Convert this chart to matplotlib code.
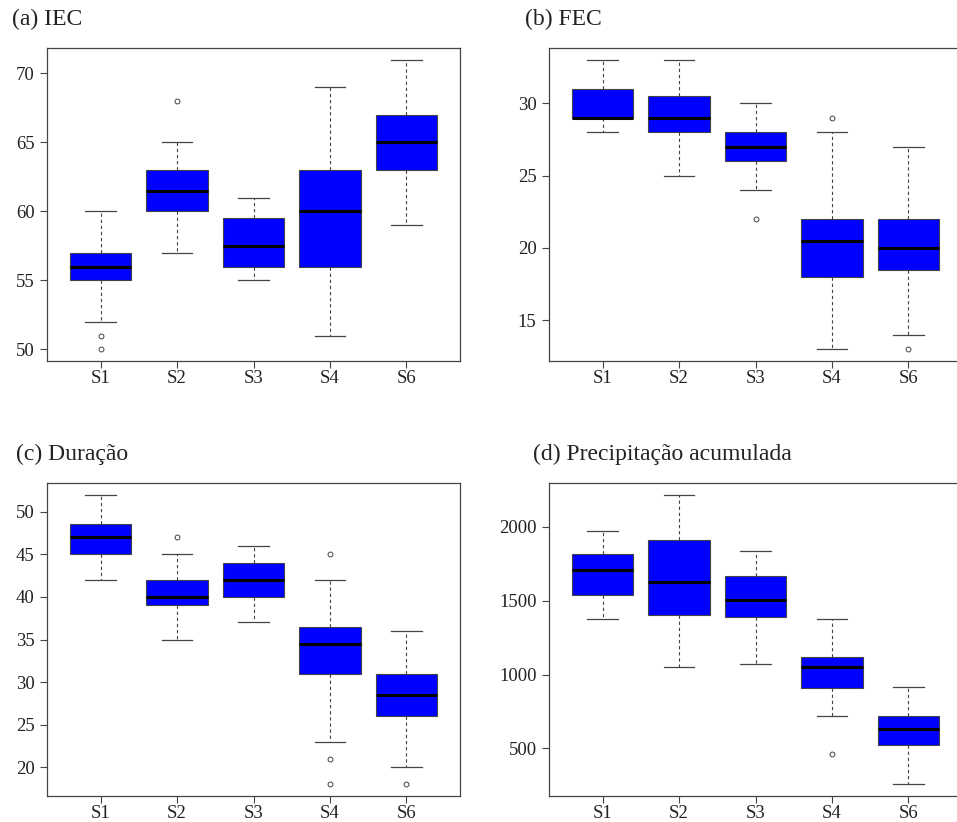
import numpy as np
import matplotlib.pyplot as plt

## DATA ##
cenarios = ['S1', 'S2', 'S3', 'S4', 'S6']

# (a) IEC
iec_whislo = [52, 57, 55, 51, 59]
iec_q1 = [55, 60, 56, 56, 63]
iec_med = [56, 61.5, 57.5, 60, 65]
iec_q3 = [57, 63, 59.5, 63, 67]
iec_whishi = [60, 65, 61, 69, 71]
iec_fliers = [[51, 50], [68], [], [], []]

# (b) FEC
fec_whislo = [28, 25, 24, 13, 14]
fec_q1 = [29, 28, 26, 18, 18.5]
fec_med = [29, 29, 27, 20.5, 20]
fec_q3 = [31, 30.5, 28, 22, 22]
fec_whishi = [33, 33, 30, 28, 27]
fec_fliers = [[], [], [22], [29], [13]]

# (c) Duracao
dur_whislo = [42, 35, 37, 23, 20]
dur_q1 = [45, 39, 40, 31, 26]
dur_med = [47, 40, 42, 34.5, 28.5]
dur_q3 = [48.5, 42, 44, 36.5, 31]
dur_whishi = [52, 45, 46, 42, 36]
dur_fliers = [[], [47], [], [45, 21, 18], [18]]

# (d) Precipitacao acumulada
prec_whislo = [1377, 1048, 1071, 717, 256]
prec_q1 = [1538, 1404, 1389, 906, 520]
prec_med = [1707, 1626, 1504, 1050, 628]
prec_q3 = [1820, 1914, 1668, 1122, 717]
prec_whishi = [1973, 2219, 1838, 1377, 913]
prec_fliers = [[], [], [], [459], []]

titles = ['(a) IEC', '(b) FEC', '(c) Duração', '(d) Precipitação acumulada']
yticks = [[50, 55, 60, 65, 70], [15, 20, 25, 30], [20, 25, 30, 35, 40, 45, 50],
          [500, 1000, 1500, 2000]]

panels = [
    (iec_whislo, iec_q1, iec_med, iec_q3, iec_whishi, iec_fliers),
    (fec_whislo, fec_q1, fec_med, fec_q3, fec_whishi, fec_fliers),
    (dur_whislo, dur_q1, dur_med, dur_q3, dur_whishi, dur_fliers),
    (prec_whislo, prec_q1, prec_med, prec_q3, prec_whishi, prec_fliers),
]

plt.rcParams['font.family'] = ['Liberation Serif', 'DejaVu Serif']

W, H = 957, 822
fig = plt.figure(figsize=(W / 100, H / 100), dpi=100)

# axes boxes in pixels: left, top, right, bottom
ax_px = [(47, 48, 460, 361), (549, 48, 962, 361),
         (47, 483, 460, 796), (549, 483, 962, 796)]
title_px = [(12, 19), (525, 19), (16, 454), (533, 454)]

line_col = '#444444'

for i, (wl, q1, med, q3, wh, fl) in enumerate(panels):
    l, t, r, b = ax_px[i]
    ax = fig.add_axes([l / W, 1 - b / H, (r - l) / W, (b - t) / H])

    stats = []
    for k in range(len(cenarios)):
        stats.append(dict(med=med[k], q1=q1[k], q3=q3[k], whislo=wl[k],
                          whishi=wh[k], fliers=fl[k], label=cenarios[k]))

    ax.bxp(stats, positions=np.arange(1, 6), widths=0.8, patch_artist=True,
           showfliers=True,
           boxprops=dict(facecolor='#0000ff', edgecolor=line_col, linewidth=0.8),
           medianprops=dict(color='black', linewidth=2.2),
           whiskerprops=dict(color=line_col, linewidth=0.8, linestyle=(0, (3, 2.5))),
           capprops=dict(color=line_col, linewidth=0.9),
           capwidths=0.4,
           flierprops=dict(marker='o', markersize=3.5, markerfacecolor='none',
                           markeredgecolor=line_col, markeredgewidth=0.7))

    # R style 4% extension of the data range
    lo = min(min(wl), min([min(f) for f in fl if f] + [np.inf]))
    hi = max(max(wh), max([max(f) for f in fl if f] + [-np.inf]))
    ext = (hi - lo) * 0.04
    ax.set_ylim(lo - ext, hi + ext)
    ax.set_xlim(0.3, 5.7)
    ax.set_yticks(yticks[i])
    ax.set_xticks(np.arange(1, 6))
    ax.set_xticklabels(cenarios)

    for s in ax.spines.values():
        s.set_color(line_col)
        s.set_linewidth(0.9)
    ax.tick_params(axis='both', direction='out', length=5, width=0.8,
                   color=line_col, labelsize=13.5, labelcolor='#222222')
    ax.tick_params(axis='y', pad=4)
    ax.tick_params(axis='x', pad=1.5)

    fig.text(title_px[i][0] / W, 1 - title_px[i][1] / H, titles[i],
             fontsize=17, ha='left', va='center', color='#222222')

fig.savefig('out.png', dpi=100)
